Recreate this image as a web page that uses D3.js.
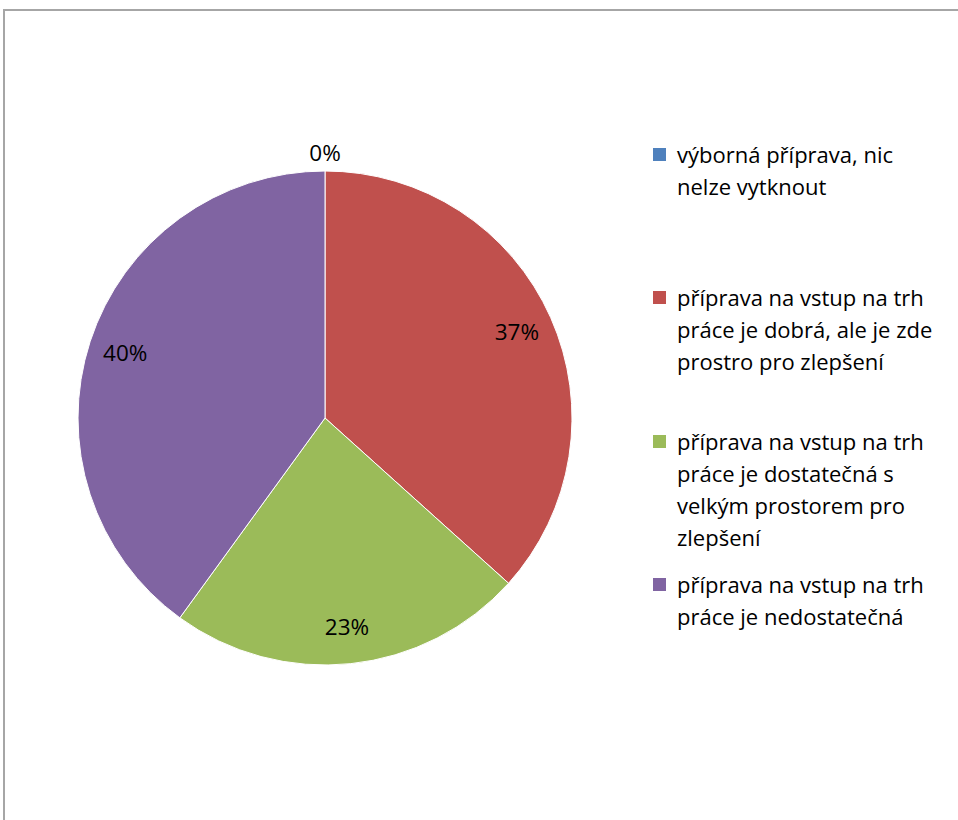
<!DOCTYPE html>
<html>
<head>
<meta charset="utf-8">
<script src="https://cdn.jsdelivr.net/npm/d3@7"></script>
<style>
  body { margin: 0; background: #fff; }
  svg { display: block; font-family: "Open Sans", "Liberation Sans", Arial, sans-serif; }
</style>
</head>
<body>
<svg id="chart" width="958" height="820"></svg>
<script>
// answer categories (legend lines as wrapped in the original)
var categories = [
  ["výborná příprava, nic", "nelze vytknout"],
  ["příprava na vstup na trh", "práce je dobrá, ale je zde", "prostro pro zlepšení"],
  ["příprava na vstup na trh", "práce je dostatečná s", "velkým prostorem pro", "zlepšení"],
  ["příprava na vstup na trh", "práce je nedostatečná"]
];
var counts = [0, 11, 7, 12];
var colors = ["#4F81BD", "#C0504D", "#9BBB59", "#8064A2"];

var svg = d3.select("#chart");

// frame of the chart area
svg.append("path")
  .attr("d", "M4,820 V10 H958")
  .attr("fill", "none")
  .attr("stroke", "#a6a6a6")
  .attr("stroke-width", 2);

var cx = 325, cy = 418, r = 247;
var total = d3.sum(counts);

var pie = d3.pie().sort(null).value(function(d) { return d; });
var arcs = pie(counts);
var arc = d3.arc().innerRadius(0).outerRadius(r);
var labelArc = d3.arc().innerRadius(210).outerRadius(210);
var outerArc = d3.arc().innerRadius(265).outerRadius(265);

var g = svg.append("g").attr("transform", "translate(" + cx + "," + cy + ")");

g.selectAll("path.slice")
  .data(arcs)
  .enter().append("path")
  .attr("class", "slice")
  .attr("d", arc)
  .attr("fill", function(d, i) { return colors[i]; })
  .attr("stroke", "#fff")
  .attr("stroke-width", 1);

g.selectAll("text.lbl")
  .data(arcs)
  .enter().append("text")
  .attr("class", "lbl")
  .attr("transform", function(d) {
    var c = d.value == 0 ? outerArc.centroid(d) : labelArc.centroid(d);
    return "translate(" + c + ")";
  })
  .attr("text-anchor", "middle")
  .attr("dy", "0.35em")
  .style("font-size", "22.5px")
  .attr("fill", "#000")
  .text(function(d) { return Math.round(d.value / total * 100) + "%"; });

// legend
var legendTop = [155, 298, 442, 585];
var lineH = 32;
var leg = svg.append("g");
categories.forEach(function(lines, i) {
  leg.append("rect")
    .attr("x", 653).attr("y", legendTop[i] - 7)
    .attr("width", 13).attr("height", 13)
    .attr("fill", colors[i]);
  var t = leg.append("text")
    .style("font-size", "22px")
    .attr("fill", "#000");
  lines.forEach(function(l, j) {
    t.append("tspan")
      .attr("x", 677)
      .attr("y", legendTop[i] + j * lineH)
      .attr("dy", "0.35em")
      .text(l);
  });
});
</script>
</body>
</html>
